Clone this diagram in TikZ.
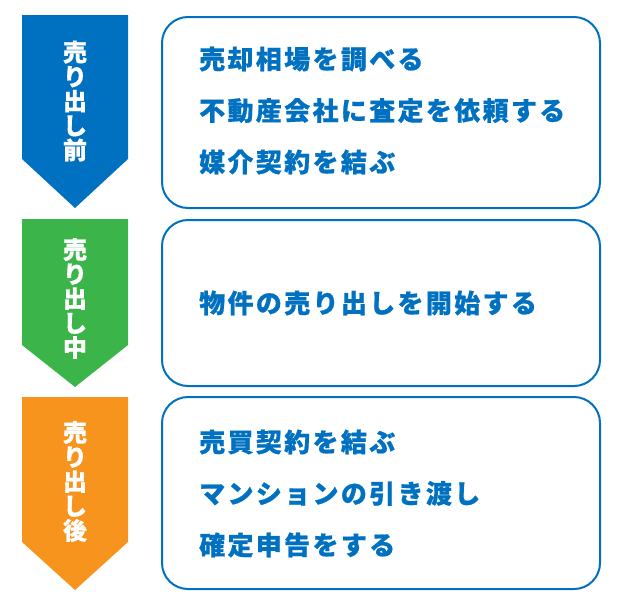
\documentclass[tikz,border=0pt]{standalone}
\usepackage{fontspec}
\setmainfont{Noto Sans CJK JP}
\newfontfamily\jpfont[BoldFeatures={FakeBold=0.6}]{Noto Sans CJK JP}
\newfontfamily\jpwide[LetterSpace=9,BoldFeatures={FakeBold=0.6}]{Noto Sans CJK JP}
\usetikzlibrary{positioning}
\definecolor{stepblue}{HTML}{0070C0}
\definecolor{stepgreen}{HTML}{3BB54A}
\definecolor{steporange}{HTML}{F7941D}
\newcommand\tagfont{\jpfont\bfseries\fontsize{24}{24.5}\selectfont}
\newcommand\itemfont{\jpwide\bfseries\fontsize{26}{51.5}\selectfont}
\tikzset{
  vtag/.style={text=white,align=center,font=\tagfont,inner sep=0pt},
  vcard/.style={draw=stepblue,line width=2pt,rounded corners=26pt},
  vitems/.style={text=stepblue,align=left,anchor=west,font=\itemfont,inner sep=0pt}
}

\begin{document}
\begin{tikzpicture}[x=1pt,y=-1pt]
  \useasboundingbox (0,0) rectangle (624,600);
  % before
  \fill[stepblue] (22,15) -- (128,15) -- (128,159) -- (75,208) -- (22,159) -- cycle;
  \node[vtag] (pre) at (75,101) {売\\り\\出\\し\\前};
  \draw[vcard] (162,17) rectangle (600,208);
  \node[vitems] (preitems) at (199,110.5) {売却相場を調べる\\不動産会社に査定を依頼する\\媒介契約を結ぶ};
  % during
  \fill[stepgreen] (22,219) -- (128,219) -- (128,345) -- (75,387) -- (22,345) -- cycle;
  \node[vtag] (mid) at (75,298.5) {売\\り\\出\\し\\中};
  \draw[vcard] (162,220) rectangle (600,386);
  \node[vitems] (miditems) at (199,303) {物件の売り出しを開始する};
  % after
  \fill[steporange] (22,397) -- (128,397) -- (128,542) -- (75,590) -- (22,542) -- cycle;
  \node[vtag] (post) at (75,481.5) {売\\り\\出\\し\\後};
  \draw[vcard] (162,397) rectangle (600,589);
  \node[vitems] (postitems) at (199,493.5) {売買契約を結ぶ\\マンションの引き渡し\\確定申告をする};
\end{tikzpicture}
\end{document}
